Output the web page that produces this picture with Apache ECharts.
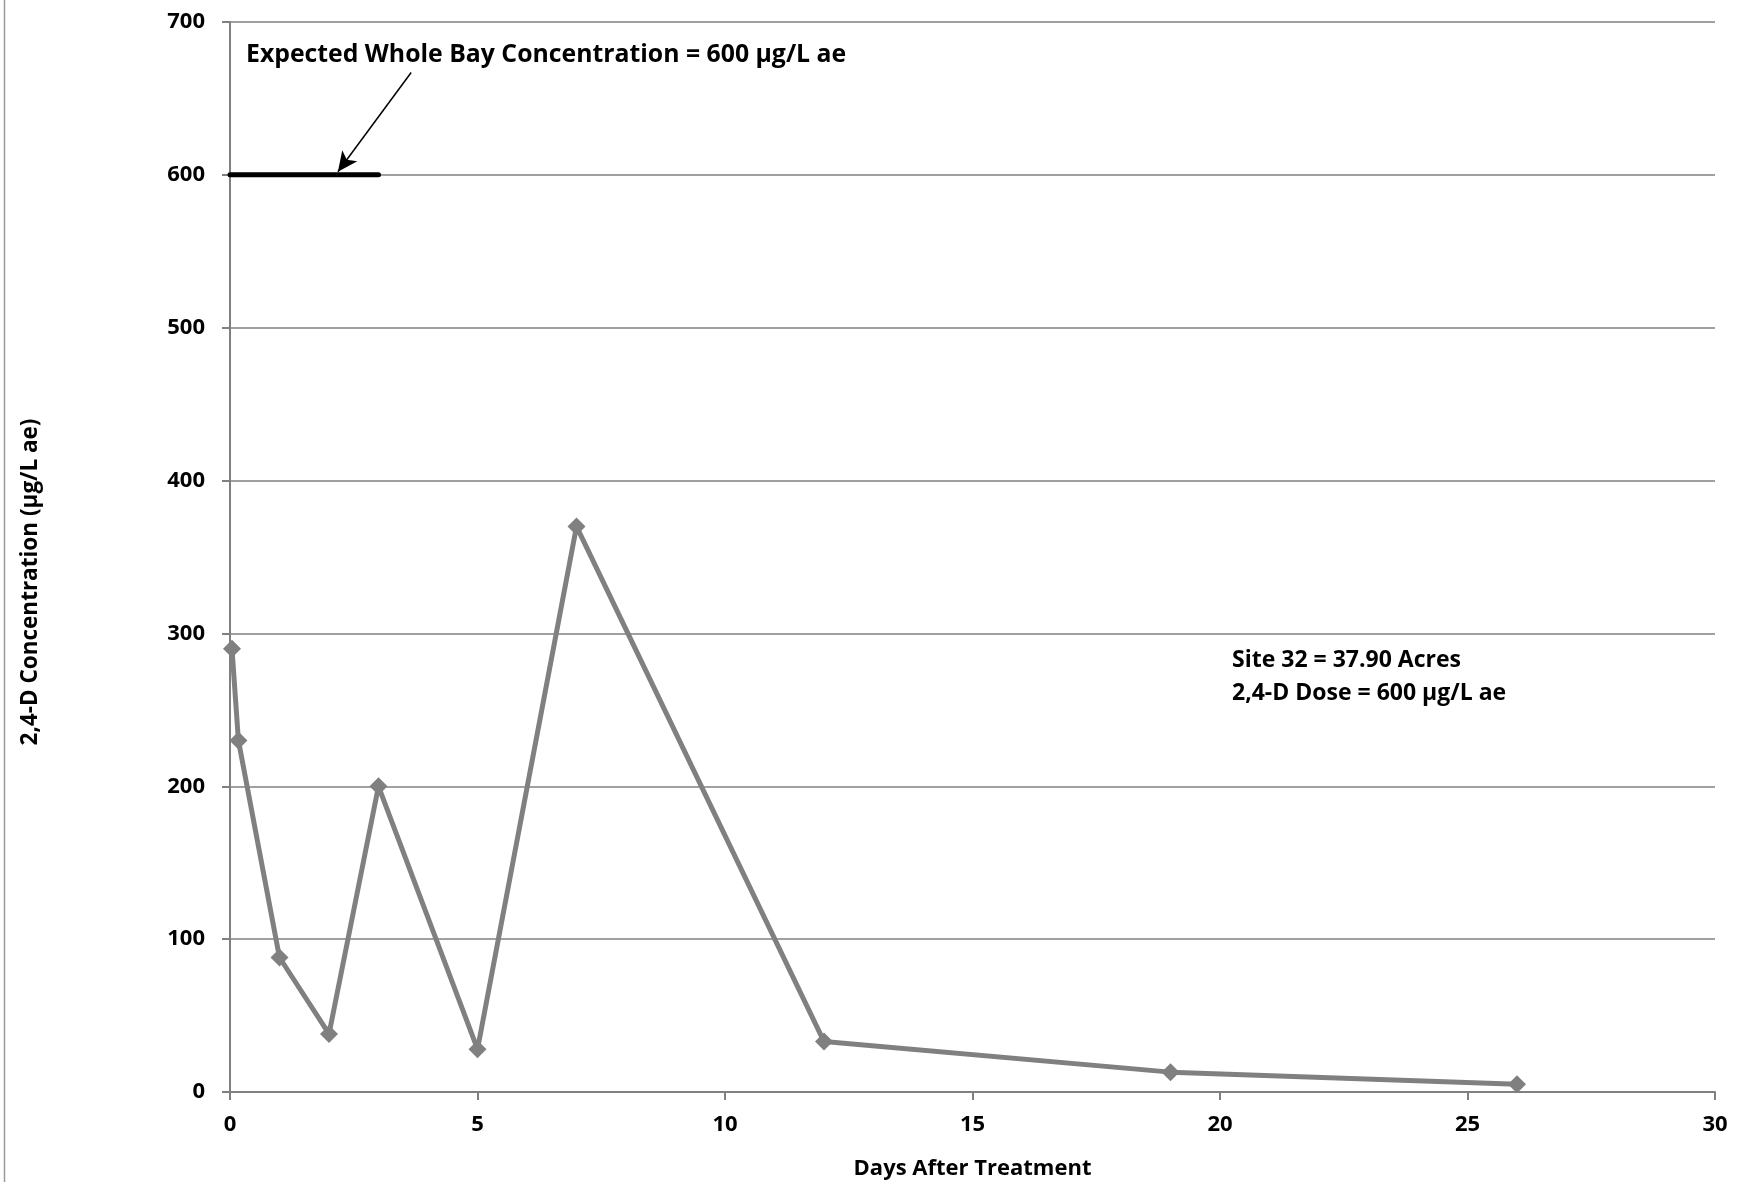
<!DOCTYPE html>
<html>
<head>
<meta charset="utf-8">
<script src="https://cdn.jsdelivr.net/npm/echarts@6/dist/echarts.min.js"></script>
<style>
  html, body { margin: 0; padding: 0; background: #fff; }
  #chart { width: 1737px; height: 1182px; }
</style>
</head>
<body>
<div id="chart"></div>
<script>
// measured concentrations
var days = [0.04, 0.17, 1, 2, 3, 5, 7, 12, 19, 26];
var conc = [290, 230, 88, 38, 200, 28, 370, 33, 13, 5];

// expected whole bay concentration line
var expectedDays = [0, 3];
var expectedConc = [600, 600];

// arrow pointing at the expected line (data space)
var arrowFrom = [3.66, 667];
var arrowTo = [2.18, 602];

var font = 'Open Sans';
var gray = '#808080';

var chart = echarts.init(document.getElementById('chart'));

chart.setOption({
  animation: false,
  grid: { left: 230, right: 22, top: 22, bottom: 90, outerBoundsMode: 'none' },
  xAxis: {
    type: 'value',
    min: 0,
    max: 30,
    interval: 5,
    name: 'Days After Treatment',
    nameLocation: 'middle',
    nameGap: 66,
    nameTextStyle: { fontFamily: font, fontWeight: 'bold', fontSize: 22, color: '#000' },
    axisLine: { lineStyle: { color: gray, width: 2 } },
    axisTick: { show: true, length: 8, lineStyle: { color: gray, width: 2 } },
    axisLabel: { margin: 22, fontFamily: font, fontWeight: 'bold', fontSize: 22, color: '#000' },
    splitLine: { show: false }
  },
  yAxis: {
    type: 'value',
    min: 0,
    max: 700,
    interval: 100,
    axisLine: { show: true, lineStyle: { color: gray, width: 2 } },
    axisTick: { show: true, length: 8, lineStyle: { color: gray, width: 2 } },
    axisLabel: { margin: 25, fontFamily: font, fontWeight: 'bold', fontSize: 22, color: '#000' },
    splitLine: { lineStyle: { color: gray, width: 1.5 } }
  },
  series: [
    {
      type: 'line',
      data: days.map(function (d, i) { return [d, conc[i]]; }),
      symbol: 'diamond',
      symbolSize: 18,
      itemStyle: { color: gray },
      lineStyle: { color: gray, width: 5 },
      z: 3
    },
    {
      type: 'line',
      data: expectedDays.map(function (d, i) { return [d, expectedConc[i]]; }),
      symbol: 'none',
      lineStyle: { color: '#000', width: 5, cap: 'round' },
      z: 4,
      markLine: {
        silent: true,
        symbol: ['none', 'arrow'],
        symbolSize: [14, 20],
        label: { show: false },
        lineStyle: { color: '#000', width: 1.5, type: 'solid' },
        data: [[{ coord: arrowFrom }, { coord: arrowTo }]]
      }
    }
  ],
  graphic: [
    {
      type: 'line',
      shape: { x1: 4.5, y1: 0, x2: 4.5, y2: 1182 },
      style: { stroke: '#999', lineWidth: 1.5 }
    },
    {
      // y axis title, sits a little below the middle as in the original
      type: 'text',
      x: 31,
      y: 582,
      rotation: Math.PI / 2,
      style: {
        text: '2,4-D Concentration (µg/L ae)',
        font: 'bold 22.5px "' + font + '"',
        align: 'center',
        verticalAlign: 'middle',
        fill: '#000'
      }
    },
    {
      type: 'text',
      left: 246,
      top: 42,
      style: {
        text: 'Expected Whole Bay Concentration = 600 µg/L ae',
        font: 'bold 24.8px "' + font + '"',
        fill: '#000'
      }
    },
    {
      type: 'text',
      left: 1232,
      top: 644,
      style: {
        text: 'Site 32 = 37.90 Acres\n2,4-D Dose = 600 µg/L ae',
        font: 'bold 23px "' + font + '"',
        lineHeight: 33,
        fill: '#000'
      }
    }
  ]
});
</script>
</body>
</html>
